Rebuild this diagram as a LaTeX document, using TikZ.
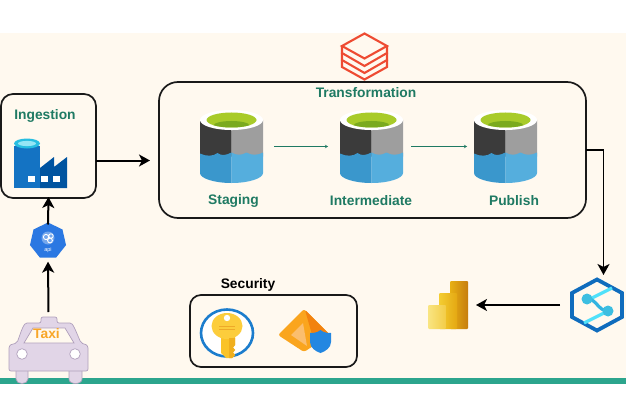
\documentclass[tikz,border=0pt]{standalone}
\usepackage{fontspec}
\setmainfont{Liberation Sans}
\usetikzlibrary{arrows.meta,calc,shapes.geometric}
\definecolor{cream}{HTML}{FFF9EF}
\definecolor{bandc}{HTML}{2CA58D}
\definecolor{titlec}{HTML}{1F7A63}
\tikzset{
  panel/.style={draw=black!90,line width=1.7pt,fill=none,rectangle,outer sep=0pt},
  iconbox/.style={rectangle,draw=none,inner sep=0pt,outer sep=0pt},
  title/.style={font=\bfseries\fontsize{13.8}{15}\selectfont,text=titlec,inner sep=0pt},
  flow/.style={line width=2pt,draw=black,-{Stealth[length=11pt,width=12pt,inset=3pt]}},
  thinflow/.style={line width=0.6pt,draw=titlec,-{Stealth[length=3pt,width=3.5pt]}}
}
\newcommand{\datalake}[1]{%
\begin{scope}[shift={(#1)}]
  \fill[fill=white] (-31.5,-26.5) -- (-31.5,26.5) .. controls (-31.5,32) and (-17,36.5) .. (0,36.5) .. controls (17,36.5) and (31.5,32) .. (31.5,26.5) -- (31.5,-26.5) -- cycle;
  \fill[fill=black!77] (-31.5,-26.5) -- (-31.5,10) -- (0,10) -- (0,-16) -- cycle;
  \fill[fill=black!38] (31.5,-26.5) -- (31.5,10) -- (0,10) -- (0,-16) -- cycle;
  \fill[fill=white] (0,-26.5) ellipse [x radius=31.5,y radius=10];
  \fill[fill={rgb,255:red,168;green,203;blue,42}] (0,-26.5) ellipse [x radius=25,y radius=7.5];
  \begin{scope}
    \clip (0,-26.5) ellipse [x radius=25,y radius=7.5];
    \fill[fill={rgb,255:red,122;green,170;blue,30}] (0,-21) ellipse [x radius=18,y radius=4.5];
  \end{scope}
  \fill[fill={rgb,255:red,58;green,151;blue,204}] (-31.5,7) .. controls (-26,10) and (-18,10) .. (-14,6.5) .. controls (-10,9.5) and (-6,9) .. (0,6) -- (0,36.5) .. controls (-17,36.5) and (-31.5,32) .. (-31.5,26.5) -- cycle;
  \fill[fill={rgb,255:red,85;green,174;blue,221}] (0,6) .. controls (5,9) and (10,9) .. (15,6) .. controls (20,9) and (26,9) .. (31.5,6) -- (31.5,26.5) .. controls (31.5,32) and (17,36.5) .. (0,36.5) -- cycle;
\end{scope}}
\begin{document}
\begin{tikzpicture}[x=1pt,y=-1pt]
\useasboundingbox (0,0) rectangle (626,417);
\fill[white] (0,0) rectangle (626,417);
\fill[cream] (0,33) rectangle (626,378);
\fill[bandc] (0,378) rectangle (626,384);

% panels
\node[panel,rounded corners=19pt,minimum width=427pt,minimum height=136pt,anchor=north west] (transbox) at (159,82) {};
\node[panel,rounded corners=12pt,minimum width=95pt,minimum height=104pt,anchor=north west] (ingbox) at (1,94) {};
\node[panel,rounded corners=11pt,minimum width=167pt,minimum height=72pt,anchor=north west] (secbox) at (190,295) {};

% titles
\node[title] (tingest) at (45,115.5) {Ingestion};
\node[title] (ttrans) at (366,92.5) {Transformation};
\node[title] (tstaging) at (233.5,200.5) {Staging};
\node[title] (tinter) at (371,200.5) {Intermediate};
\node[title] (tpublish) at (514,200.5) {Publish};
\node[title,text=black] (tsec) at (248,284.5) {Security};

% databricks
\begin{scope}[draw={rgb,255:red,238;green,75;blue,50},line width=2.1pt,line join=miter]
  \draw (364.5,33.5) -- (342,46) -- (364.5,58.5) -- (387,46) -- cycle;
  \draw (342,46) -- (342,53) -- (364.5,66) -- (387,53) -- (387,46);
  \draw (342,53) -- (342,60) -- (364.5,73) -- (387,60) -- (387,53);
  \draw (342,60) -- (342,67) -- (364.5,79.5) -- (387,67) -- (387,60);
\end{scope}

% data lakes
\datalake{231.5,146.5}
\datalake{371.5,146.5}
\datalake{505.5,146.5}
\node[iconbox,minimum width=63pt,minimum height=73pt] (stg) at (231.5,146.5) {};
\node[iconbox,minimum width=63pt,minimum height=73pt] (intm) at (371.5,146.5) {};
\node[iconbox,minimum width=63pt,minimum height=73pt] (pub) at (505.5,146.5) {};

% factory
\fill[fill={rgb,255:red,0;green,84;blue,160}] (40,168) -- (54,157) -- (54,167) -- (67,157) -- (67,188) -- (40,188) -- cycle;
\fill[fill={rgb,255:red,20;green,115;blue,195}] (14,146) -- (14,188) -- (40,188) -- (40,146) -- cycle;
\fill[fill={rgb,255:red,40;green,190;blue,225}] (27,143.5) ellipse [x radius=13,y radius=5];
\fill[fill={rgb,255:red,150;green,230;blue,245}] (27,143.5) ellipse [x radius=9,y radius=2.6];
\fill[white] (28,176) rectangle (35,182);
\fill[white] (40.5,176) rectangle (47.5,182);
\fill[white] (53,176) rectangle (60,182);

% api
\node[regular polygon,regular polygon sides=7,fill={rgb,255:red,43;green,120;blue,226},minimum size=37pt,inner sep=0pt,outer sep=0pt] (api) at (48,241) {};
\draw[white,line width=0.9pt] (46,237) circle [radius=2.6] (51,236) circle [radius=2.2] (50,240.5) circle [radius=2.4];
\fill[white,opacity=0.35] (48,238) circle [radius=6.5];
\node[text=white,font=\fontsize{5.5}{6}\selectfont,inner sep=0pt] (apilabel) at (48,250) {api};

% taxi
\begin{scope}[fill={rgb,255:red,225;green,213;blue,231},draw={rgb,255:red,176;green,160;blue,188},line width=0.7pt]
  \filldraw (16,370) -- (16,379) .. controls (16,385) and (28,385) .. (28,379) -- (28,370) -- cycle;
  \filldraw (69,370) -- (69,379) .. controls (69,385) and (82,385) .. (82,379) -- (82,370) -- cycle;
  \filldraw[rounded corners=2pt] (41,323) -- (41,317) -- (57,317) -- (57,323) -- (68,323) .. controls (72,323) and (73,325) .. (75,329) -- (81,343) -- (84,344) .. controls (87,345) and (88,347) .. (88,350) -- (88,371) -- (9,371) -- (9,350) .. controls (9,347) and (10,345) .. (13,344) -- (17,343) -- (22,329) .. controls (24,325) and (25,323) .. (29,323) -- cycle;
  \filldraw[fill=cream] (24,343) -- (33,328) -- (65,328) -- (74,343) -- cycle;
  \filldraw[fill=white] (22,354) circle [radius=5.3];
  \filldraw[fill=white] (75,354) circle [radius=5.3];
\end{scope}
\node[iconbox,minimum width=79pt,minimum height=66pt,anchor=north] (taxi) at (48.5,317) {};
\node[font=\bfseries\fontsize{13.8}{15}\selectfont,text={rgb,255:red,248;green,166;blue,40},inner sep=0pt] (taxilabel) at (46.5,334) {Taxi};

% key vault
\node[ellipse,draw={rgb,255:red,28;green,125;blue,205},fill=white,line width=2.6pt,minimum width=52pt,minimum height=47pt,inner sep=0pt,outer sep=0pt] (vault) at (227,333) {};
\fill[fill={rgb,255:red,250;green,195;blue,40}] (221,336) -- (221,353) -- (226,358) -- (232,358) -- (235,355) -- (233,352.5) -- (235,350) -- (233,347.5) -- (235,345) -- (235,336) -- cycle;
\fill[fill={rgb,255:red,252;green,205;blue,60}] (227,326) ellipse [x radius=15.5,y radius=13];
\fill[white] (227,318) circle [radius=3.2];
\draw[draw={rgb,255:red,238;green,170;blue,40},line width=0.7pt] (219,326) -- (235,326) (219,329) -- (235,329);
\fill[fill={rgb,255:red,240;green,175;blue,30}] (229,338) -- (235,338) -- (235,345) -- (233,347.5) -- (235,350) -- (233,352.5) -- (235,355) -- (232,358) -- (229,358) -- cycle;

% identity protection
\fill[fill={rgb,255:red,250;green,165;blue,30},rounded corners=2.5pt] (278,335) -- (304,309) -- (330,335) -- (304,352) -- cycle;
\fill[fill={rgb,255:red,242;green,130;blue,15},rounded corners=1.5pt] (305,310) -- (330,335) -- (315,345) -- cycle;
\fill[fill={rgb,255:red,251;green,190;blue,110}] (291,335) -- (303,323) -- (307,346) -- cycle;
\node[iconbox,minimum width=52pt,minimum height=44pt] (entra) at (304,331) {};
\fill[fill={rgb,255:red,35;green,135;blue,225}] (320.5,330) .. controls (324,333) and (328,333) .. (331,333) -- (331,342) .. controls (331,348) and (325,351.5) .. (320.5,353) .. controls (316,351.5) and (310,348) .. (310,342) -- (310,333) .. controls (313,333) and (317,333) .. (320.5,330) -- cycle;

% power bi
\node[iconbox,minimum width=40pt,minimum height=48pt,anchor=north west] (pbi) at (428,281) {};
\shade[left color={rgb,255:red,232;green,176;blue,20},right color={rgb,255:red,198;green,125;blue,14},rounded corners=1pt] (450,281) rectangle (468,329);
\shade[left color={rgb,255:red,244;green,205;blue,50},right color={rgb,255:red,228;green,168;blue,18},rounded corners=1pt] (439,293) rectangle (457,329);
\shade[left color={rgb,255:red,249;green,229;blue,130},right color={rgb,255:red,243;green,204;blue,70},rounded corners=1pt] (428,305) rectangle (446,329);

% synapse
\node[iconbox,minimum width=54pt,minimum height=56pt] (syn) at (597,305) {};
\draw[line width=3.8pt,draw={rgb,255:red,15;green,108;blue,189},line join=miter] (597,279.5) -- (622,293) -- (622,317) -- (597,330.5) -- (572,317) -- (572,293) -- cycle;
\draw[line width=3.2pt,draw={rgb,255:red,80;green,225;blue,250}] (584,302) -- (612,288);
\draw[line width=3.2pt,draw={rgb,255:red,80;green,225;blue,250}] (608,311) -- (584,323);
\draw[line width=3.2pt,draw={rgb,255:red,50;green,180;blue,225}] (587,299) .. controls (596,298) and (598,311) .. (608,311);
\fill[fill={rgb,255:red,60;green,190;blue,225}] (587,299) circle [radius=5.5];
\fill[fill={rgb,255:red,60;green,190;blue,225}] (608,311) circle [radius=5.5];

% connectors
\coordinate (ingout) at (96,160.5);
\coordinate (transin) at (159,160.5);
\coordinate (synin) at (603.5,277);
\draw[flow,shorten >=9pt] (ingout) -- (transin);
\draw[flow,shorten >=-1pt,shorten <=-2pt] (api.north) -- (ingbox.south);
\draw[flow,shorten <=5pt,shorten >=4pt] (taxi.north) -- (api.south);
\draw[line width=1.8pt,-{Stealth[length=11pt,width=12pt,inset=3pt]},shorten >=2pt] (transbox.east) -| (synin);
\draw[flow,shorten <=10pt,shorten >=8pt] (syn.west |- pbi.east) -- (pbi.east);
\draw[thinflow,shorten <=11pt,shorten >=12pt] (stg) -- (intm);
\draw[thinflow,shorten <=8pt,shorten >=7pt] (intm) -- (pub);
\end{tikzpicture}
\end{document}
